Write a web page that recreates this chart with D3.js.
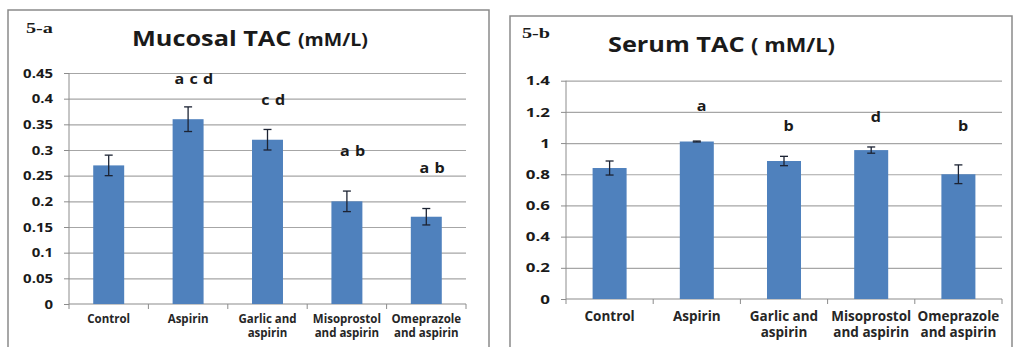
<!DOCTYPE html>
<html>
<head>
<meta charset="utf-8">
<script src="https://cdn.jsdelivr.net/npm/d3@7"></script>
<style>
  body { margin: 0; background: #fff; }
  svg { display: block; }
  text { font-family: "Open Sans", "DejaVu Sans", sans-serif; font-weight: bold; }
</style>
</head>
<body>
<svg></svg>
<script>
const categories = [["Control"], ["Aspirin"], ["Garlic and", "aspirin"], ["Misoprostol", "and aspirin"], ["Omeprazole", "and aspirin"]];

const mucosalValues = [0.27, 0.36, 0.32, 0.20, 0.17];
const mucosalErrors = [0.02, 0.024, 0.02, 0.02, 0.016];
const mucosalLetters = ["", "a c d", "c d", "a b", "a b"];
const mucosalLetterLevels = [0, 0.428, 0.388, 0.288, 0.255];
const mucosalTicks = [0, 0.05, 0.1, 0.15, 0.2, 0.25, 0.3, 0.35, 0.4, 0.45];

const serumValues = [0.84, 1.01, 0.885, 0.955, 0.80];
const serumErrors = [0.045, 0.003, 0.03, 0.02, 0.06];
const serumLetters = ["", "a", "b", "d", "b"];
const serumLetterLevels = [0, 1.205, 1.077, 1.135, 1.077];
const serumTicks = [0, 0.2, 0.4, 0.6, 0.8, 1, 1.2, 1.4];

const width = 1013;
const height = 347;

const svg = d3.select("svg")
  .attr("width", width)
  .attr("height", height);

function drawPanel(p) {
  const g = svg.append("g");

  // panel frame (bottom runs off the picture)
  g.append("path")
    .attr("d", `M${p.frame[0]},${height + 5}V${p.frame[1]}H${p.frame[2]}V${height + 5}`)
    .attr("fill", "none")
    .attr("stroke", "#8a8a8a")
    .attr("stroke-width", 1.5);

  const x = d3.scaleBand()
    .domain(d3.range(categories.length))
    .range([p.left, p.right]);

  const y = d3.scaleLinear()
    .domain([0, d3.max(p.ticks)])
    .range([p.bottom, p.top]);

  // grid
  g.append("g")
    .attr("transform", `translate(${p.left},0)`)
    .call(d3.axisLeft(y).tickValues(p.ticks.slice(1)).tickSize(-(p.right - p.left)).tickFormat(""))
    .call(a => a.select(".domain").remove())
    .call(a => a.selectAll("line").attr("stroke", "#a6a6a6").attr("stroke-width", 1.2));

  // y axis, labels stretched sideways like the source image
  g.append("g")
    .attr("transform", `translate(${p.left},0)`)
    .call(d3.axisLeft(y).tickValues(p.ticks).tickSize(5).tickPadding(p.tickPad).tickFormat(d => String(d)))
    .call(a => a.select(".domain").attr("stroke", "#8c8c8c").attr("d", `M0,${p.bottom}V${p.top}`))
    .call(a => a.selectAll("line").attr("stroke", "#8c8c8c"))
    .call(a => a.selectAll("text")
      .attr("x", -(p.tickPad + 5) / p.tickStretch)
      .attr("transform", `scale(${p.tickStretch},1)`)
      .attr("fill", "#1a1a1a")
      .style("font-size", p.tickFont + "px")
      .style("font-family", "'Open Sans', sans-serif"));

  // x axis line + boundary ticks
  g.append("line")
    .attr("x1", p.left).attr("x2", p.right)
    .attr("y1", p.bottom).attr("y2", p.bottom)
    .attr("stroke", "#8c8c8c").attr("stroke-width", 1.2);

  g.selectAll(".xtick")
    .data(d3.range(categories.length + 1))
    .join("line")
    .attr("x1", i => i < categories.length ? x(i) : p.right)
    .attr("x2", i => i < categories.length ? x(i) : p.right)
    .attr("y1", p.bottom).attr("y2", p.bottom + 5)
    .attr("stroke", "#8c8c8c");

  const barW = x.bandwidth() * 0.39;

  g.selectAll(".bar")
    .data(p.values)
    .join("rect")
    .attr("x", (d, i) => x(i) + x.bandwidth() / 2 - barW / 2)
    .attr("y", d => y(d))
    .attr("width", barW)
    .attr("height", d => p.bottom - y(d))
    .attr("fill", "#4f81bd");

  // error bars
  const err = g.selectAll(".err")
    .data(p.values.map((v, i) => ({ v, e: p.errors[i], i })))
    .join("g")
    .attr("stroke", "#1c2333")
    .attr("stroke-width", 1.3);
  err.append("line")
    .attr("x1", d => x(d.i) + x.bandwidth() / 2).attr("x2", d => x(d.i) + x.bandwidth() / 2)
    .attr("y1", d => y(d.v - d.e)).attr("y2", d => y(d.v + d.e));
  err.append("line")
    .attr("x1", d => x(d.i) + x.bandwidth() / 2 - 4).attr("x2", d => x(d.i) + x.bandwidth() / 2 + 4)
    .attr("y1", d => y(d.v + d.e)).attr("y2", d => y(d.v + d.e));
  err.append("line")
    .attr("x1", d => x(d.i) + x.bandwidth() / 2 - 4).attr("x2", d => x(d.i) + x.bandwidth() / 2 + 4)
    .attr("y1", d => y(d.v - d.e)).attr("y2", d => y(d.v - d.e));

  // significance letters
  g.selectAll(".letter")
    .data(p.letters.map((t, i) => ({ t, i, lv: p.levels[i] })).filter(d => d.t))
    .join("text")
    .attr("transform", d => `translate(${x(d.i) + x.bandwidth() / 2 + p.letterShift},${y(d.lv)}) scale(1.15,1)`)
    .attr("text-anchor", "middle")
    .attr("fill", "#1a1a1a")
    .style("font-size", "14px")
    .style("letter-spacing", "0.5px")
    .text(d => d.t);

  // category labels
  const cat = g.selectAll(".cat")
    .data(categories)
    .join("text")
    .attr("text-anchor", "middle")
    .attr("fill", "#262626")
    .style("font-size", p.catFont + "px");
  cat.selectAll("tspan")
    .data((d, i) => d.map((line, j) => ({ line, j, i })))
    .join("tspan")
    .attr("x", d => x(d.i) + x.bandwidth() / 2)
    .attr("y", d => p.catY + d.j * p.catGap)
    .text(d => d.line);

  // title
  const title = g.append("text")
    .attr("transform", `translate(${p.titleX},${p.titleY}) scale(1.15,1)`)
    .attr("fill", "#1a1a1a")
    .style("font-size", "22px");
  title.append("tspan").text(p.title[0]);
  title.append("tspan").style("font-size", p.subSize + "px").text(p.title[1]);

  g.append("text")
    .attr("transform", `translate(${p.tagX},${p.tagY}) scale(1.35,1)`)
    .attr("fill", "#1a1a1a")
    .style("font-family", "'Liberation Serif', 'DejaVu Serif', serif")
    .style("font-size", "15px")
    .text(p.tag);
}

drawPanel({
  frame: [8, 10, 489],
  left: 69, right: 466, top: 73, bottom: 304,
  ticks: mucosalTicks, values: mucosalValues, errors: mucosalErrors,
  letters: mucosalLetters, levels: mucosalLetterLevels, letterShift: 6,
  tickFont: 13, tickStretch: 1.15, tickPad: 11, catFont: 11.5, catY: 323, catGap: 14,
  title: ["Mucosal TAC ", "(mM/L)"], subSize: 17, titleX: 132, titleY: 46,
  tag: "5-a", tagX: 26, tagY: 33
});

drawPanel({
  frame: [510, 16, 1012],
  left: 566, right: 1002, top: 80.7, bottom: 299,
  ticks: serumTicks, values: serumValues, errors: serumErrors,
  letters: serumLetters, levels: serumLetterLevels, letterShift: 5,
  tickFont: 13, tickStretch: 1.3, tickPad: 11, catFont: 13.5, catY: 321, catGap: 16,
  title: ["Serum TAC ", "( mM/L)"], subSize: 19, titleX: 608, titleY: 52,
  tag: "5-b", tagX: 522, tagY: 38
});
</script>
</body>
</html>
